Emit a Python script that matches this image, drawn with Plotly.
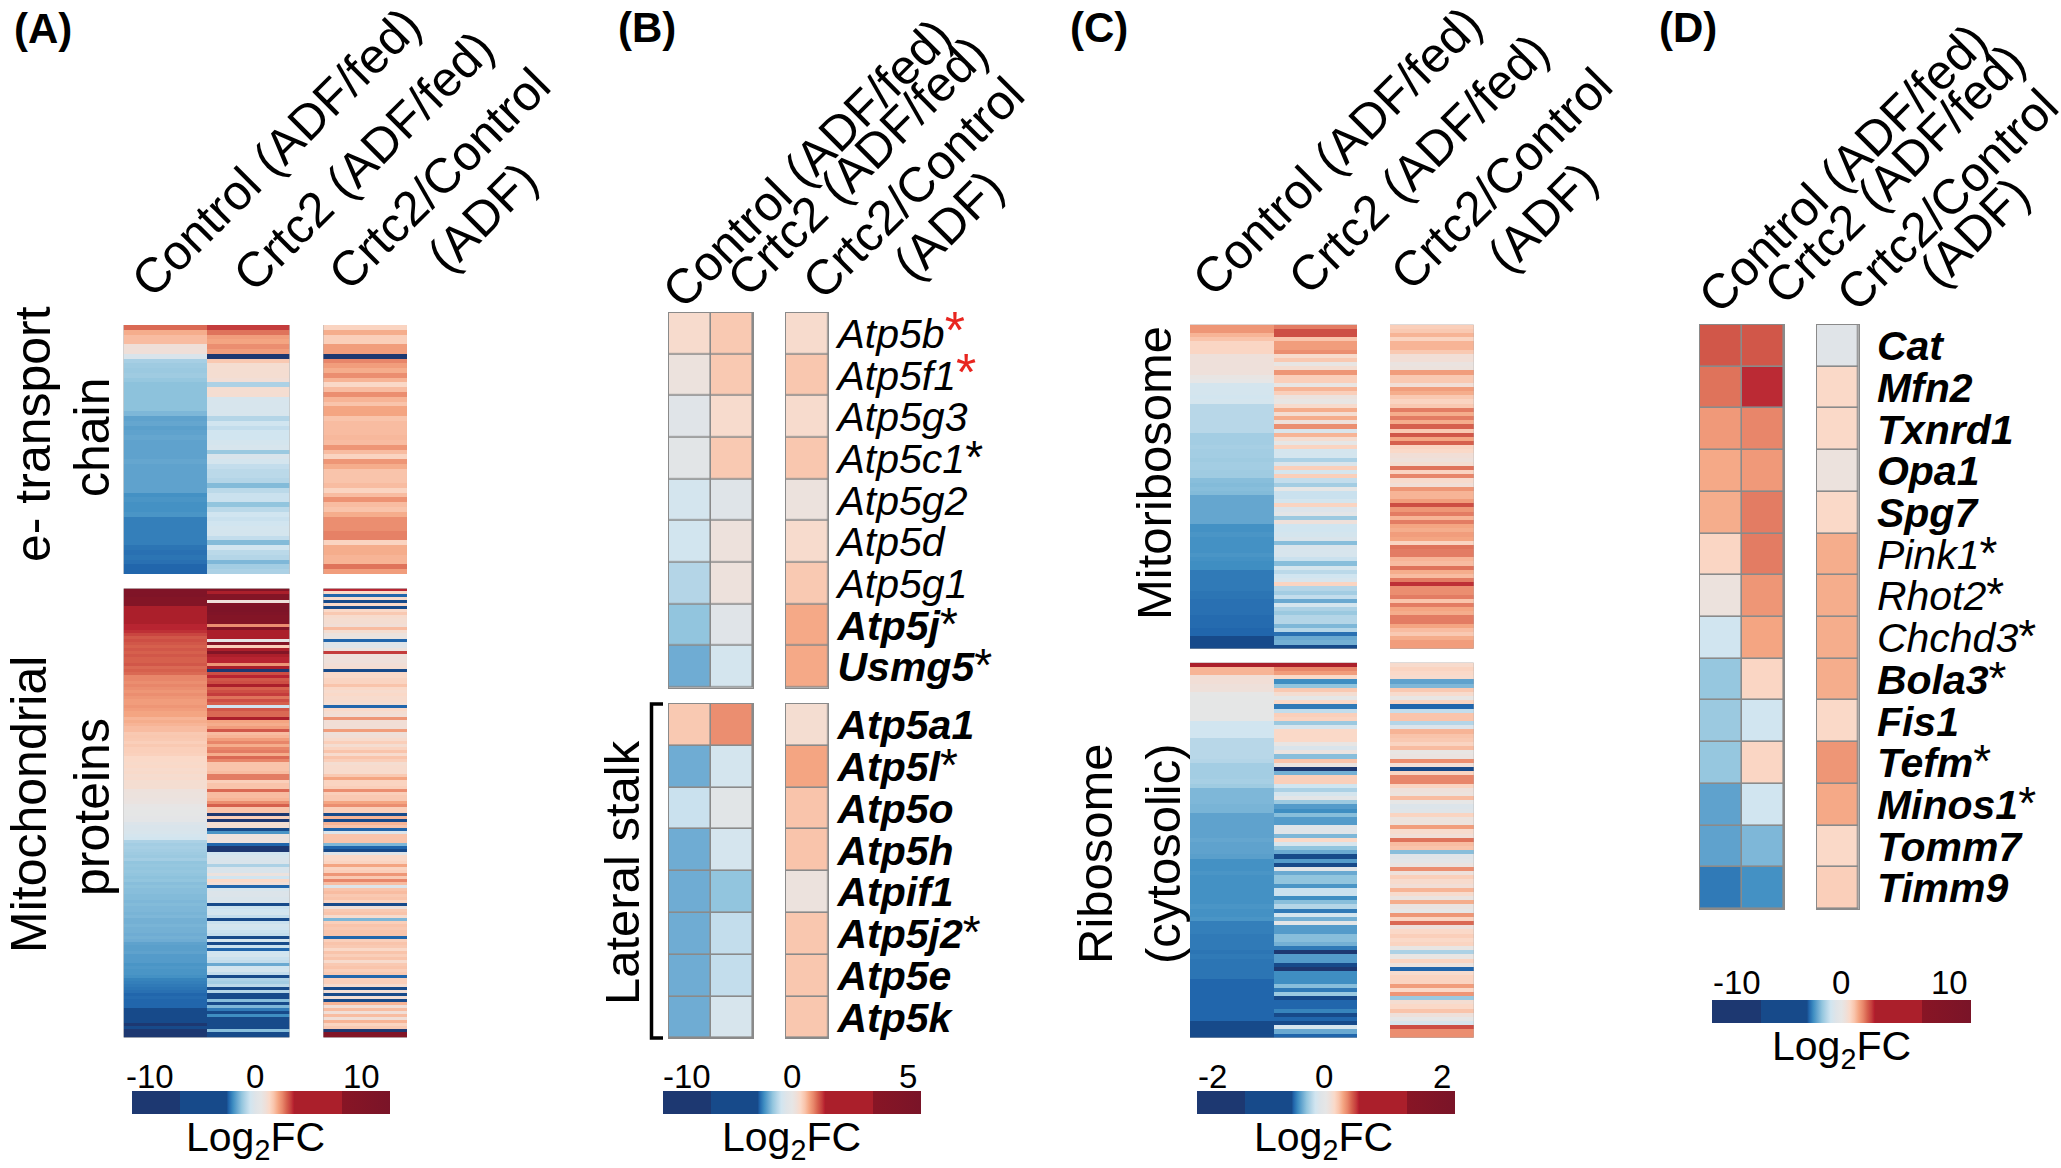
import plotly.graph_objects as go

W, H = 2061, 1168
FONT = "Liberation Sans"

# Shared colour key, in colour-bar units
scale_z = [-12, -7.5, -7.5, -3.2, -3.0, -2.6, -2.2, -1.8, -1.4, -1.0, -0.5, 0, 0.4, 0.8, 1.2, 1.6, 2.0, 2.4, 2.8, 3.1, 3.1, 7.5, 7.5, 12]
scale_c = ["#1d3871", "#1d3871", "#174a8a", "#174a8a", "#2166ac", "#3f8ec2", "#6aa9d1", "#92c5de", "#b4d5e7", "#d1e5f0",
           "#dfe4e8", "#e6e6e6", "#eee0da", "#fad9c8", "#f9c4ab", "#f4a582", "#e8866a", "#d6604d", "#c43c3c", "#b2182b",
           "#ab1f2b", "#ab1f2b", "#881525", "#7a1428"]

# Panel A, e- transport chain
a1_control = [2.3,1.5,1.3,1.3,.45,.45,-.7,-1.55,-1.65,-1.7,
              -1.65,-1.75,-1.85,-1.85,-1.85,-1.85,-1.85,-1.85,-2.0,-2.3,
              -2.25,-2.35,-2.3,-2.25,-2.3,-2.3,-2.3,-2.3,-2.25,-2.3,
              -2.3,-2.3,-2.3,-2.3,-2.3,-2.55,-2.5,-2.55,-2.55,-2.5,
              -2.75,-2.75,-2.75,-2.75,-2.75,-2.75,-2.85,-2.9,-2.85,-2.9,
              -3.0,-3.0]
a1_crtc2 = [2.8,2.2,1.7,1.6,1.9,1.7,-9,1.1,.6,.6,
            .6,.5,-1.5,.6,.6,-.8,-.8,-.8,-.8,-1.4,
            -1.0,-1.2,-1.0,-1.0,-.9,-.8,-1.7,-.7,-.9,-1.2,
            -1.3,-1.3,-1.4,-1.95,-1.3,-1.1,-1.1,-1.8,-1.3,-1.0,
            -1.1,-1.0,-.9,-.9,-1.2,-1.95,-1.0,-1.3,-1.4,-2.0,
            -1.6,-1.5]
a1_ratio = [.9,1.5,1,1,1.7,1.7,-9,2,1.7,1.5,
            1.9,1.4,.8,1.3,1.9,1.4,1.2,1.6,1.6,1.2,
            1.3,1.3,1.3,1.35,1.3,1.8,1.3,.9,1.8,1.5,
            1.2,1.2,1.2,1.3,.9,1.3,1.85,1.3,1.2,1.5,
            1.9,1.9,1.9,2.05,2.05,.9,1.5,1.5,1.4,1.4,
            2.2,1.7]

# Panel A, mitochondrial proteins
a2_control = [10.5,10,10.5,9,9,9,5,4.2,5,4.5,
              4,4,3,3,2.9,2.7,2.5,2.6,2.5,2.4,
              2.5,2.4,2.5,2.4,2.4,2.5,2.3,2.4,2.3,2.0,
              2.0,1.9,2.0,1.9,1.8,1.9,1.8,1.7,1.7,1.8,
              1.7,1.6,1.6,1.4,1.5,1.4,1.3,1.3,1.1,1.15,
              1.1,1.0,1.1,1.0,1.0,.95,.8,.8,.75,.8,
              .7,.75,.65,.7,.6,.6,.6,.35,.3,.3,
              .25,.2,.05,0,-.05,-.1,-.15,-.2,-.6,-.7,
              -.7,-.75,-.85,-.95,-1.5,-1.6,-1.55,-1.6,-1.65,-1.7,
              -1.6,-1.8,-1.75,-1.8,-1.75,-1.8,-1.85,-1.8,-1.9,-1.85,
              -1.9,-1.9,-1.95,-1.95,-2.0,-1.95,-2,-2,-2.05,-2,
              -2.1,-2.1,-2.05,-2.1,-2.1,-2.15,-2.1,-2.15,-2.3,-2.35,
              -2.35,-2.3,-2.4,-2.4,-2.4,-2.5,-2.45,-2.5,-2.5,-2.55,
              -2.7,-2.75,-2.8,-2.85,-2.9,-3,-2.95,-3.0,-3.0,-3.0,
              -5,-5.5,-6,-5.5,-6,-8,-7,-8,-8,-8]
a2_crtc2 = [9,5,9,9,.4,10,11,11,10,9,
            9,9,1.9,9,4,3.5,3.5,0,9,1,
            3.2,9,3.2,3,3,1.8,3.4,-9,2.6,3,
            2.5,2.6,3.2,2.4,2.6,2.8,2.2,2.6,2.4,-1,
            2.5,2.3,2.3,3.3,1.6,1.5,1.7,2.5,1.3,1.4,
            1.7,2,1.5,2,2.1,1.5,2.3,2,1.2,1.2,
            1.2,1.3,2.1,2.1,1,1.2,1.2,2.3,1.3,1.3,
            1.4,1.9,2.4,1.2,1.2,-9,1,-9,.6,.6,
            -6,-2.5,.3,.3,.3,-3,-9,-9,-1,-.8,
            -.7,-.7,-1.5,-.7,-.7,.3,-1,.8,.5,-3,
            -.8,-.6,-.6,-.7,-.7,-5,-1.1,-1.0,-.9,-1.2,
            -4,-1.1,-.9,-1,-1.1,-1.2,-5,-.9,-3.5,-1.1,
            -3,-1.0,-.9,-1.1,-1.2,-2.2,-1.0,-.9,-1.2,-5,
            -1.5,-1.6,-1.3,-4,-1.4,-4,-5,-1.9,-5,-2.0,
            -2.8,-4,-2.6,-3.2,-3.2,-4,-3.4,-1.9,-3.5,-3.2]
a2_ratio = [3,.8,-3,.7,-5,.8,-5,.8,1.1,.7,
            .6,.6,.5,1.3,.6,.3,.2,-3,-.5,-.4,
            .3,2.8,.4,.4,.4,.5,.6,-5,.8,.8,
            .9,.9,1.2,.8,.7,.8,.7,.7,.6,-3,
            .8,.6,.5,1.8,.5,.5,.5,1.7,.4,.5,
            .7,1,.6,.9,1.2,.7,1.2,1,.6,.7,
            .7,.7,1.1,1.6,.9,.9,1,1.9,1,1.1,
            1.1,1.6,1.9,1,1,-4,1.4,-5,1.4,1.2,
            -3,-.6,1.2,1.2,1.2,-2,-3,-5,-.5,.8,
            .8,.9,1.6,.9,1,1.8,1.1,2,1.3,-.6,
            1.2,1.3,1.1,1.2,.9,-5,.4,1.1,1.2,.7,
            -2,1,1.2,1.1,1.2,1.2,-3,1,1.2,1.1,
            .8,1.2,1,1.2,.7,1.1,1.2,1,1.1,-3,
            1,1,.7,-5,.5,-5,.5,-5,1.4,.5,
            1.3,.5,1.3,.5,1.4,.9,1.1,-9,10,9]

# Panel B
b1_genes = ["Atp5b", "Atp5f1", "Atp5g3", "Atp5c1", "Atp5g2", "Atp5d", "Atp5g1", "Atp5j", "Usmg5"]
b1_bold = [0, 0, 0, 0, 0, 0, 0, 1, 1]
b1_star = ["red", "red", "", "black", "", "", "", "black", "black"]
b1_control = [.7, .3, -.4, -.3, -.9, -.95, -1.4, -1.8, -2.15]
b1_crtc2 = [1.1, 1.1, .7, 1.1, -.5, .35, .35, -.4, -.9]
b1_ratio = [.7, 1.15, .7, 1.15, .3, .7, 1.1, 1.55, 1.55]
b2_genes = ["Atp5a1", "Atp5l", "Atp5o", "Atp5h", "Atpif1", "Atp5j2", "Atp5e", "Atp5k"]
b2_bold = [1, 1, 1, 1, 1, 1, 1, 1]
b2_star = ["", "black", "", "", "", "black", "", ""]
b2_control = [1.1, -2.15, -1.1, -2.15, -2.15, -2.15, -2.15, -2.15]
b2_crtc2 = [1.9, -.9, -.35, -.85, -1.8, -1.2, -1.2, -.8]
b2_ratio = [.6, 1.6, 1.2, 1.2, .3, 1.15, 1.15, 1.15]

# Panel C, mitoribosome
c1_control = [1.8,1.8,1.4,1.2,.85,.85,.85,.4,.4,.4,
              .4,.4,.1,0,-.9,-.9,-.9,-.95,-.9,-1.35,
              -1.35,-1.35,-1.35,-1.35,-1.35,-1.35,-1.6,-1.6,-1.6,-1.55,
              -1.6,-1.6,-1.65,-1.6,-1.6,-1.65,-1.65,-1.9,-1.95,-1.9,
              -1.95,-2.25,-2.25,-2.25,-2.25,-2.25,-2.25,-2.25,-2.55,-2.55,
              -2.5,-2.55,-2.55,-2.55,-2.55,-2.5,-2.55,-2.6,-2.6,-2.8,
              -2.8,-2.8,-2.8,-2.8,-2.85,-2.85,-2.9,-2.9,-2.9,-2.9,
              -2.95,-2.95,-2.95,-3.0,-3.0,-4,-5,-5]
c1_crtc2 = [2.1,2.6,2.6,1.2,1.7,1.7,1.9,.7,1.1,.1,
            .6,1.8,1.0,1.0,.1,1.4,1.0,.3,.1,.7,
            1.5,.6,1.5,.4,1.9,-.7,1.4,.6,-.1,.9,
            -.9,-.9,-1.5,-.7,1.0,-.9,1.0,-1.2,-1.6,-.1,
            -1.1,-1.1,-.9,.9,-.6,-.3,-1.7,.4,-1,-1,
            -.9,-.7,-1.9,-.7,-.8,-.8,-1.1,-1.9,-.9,-1.3,
            -1,-.8,.9,-1.4,-1.6,-1.2,-2.2,-.9,-1.5,-1.7,
            -1.4,-1.4,-2.0,-1.4,-2.9,-2.2,-2.1,-5]
c1_ratio = [1.0,1.1,1.4,.9,1.4,1.4,1.1,.5,.5,.2,
            .3,1.7,1.1,1.1,.5,1.7,1.5,1.1,.9,1.1,
            2.1,1.5,2.1,1.5,2.4,1.1,2.5,1.6,2.4,.9,
            .8,.5,.4,.6,2.2,.9,2.0,.7,.5,1.8,
            1.4,1.4,1.7,2.6,1.8,2.1,1.4,2.1,1.6,1.5,
            1.7,1.6,.9,2.2,2.1,2.1,1.4,1.3,2.2,1.5,
            1.3,2.1,2.9,1.9,1.9,2.1,1.2,2.1,1.6,1.5,
            2.1,2.1,1.6,1.3,1.1,1.5,1.7,1.7]

# Panel C, cytosolic ribosome
c2_control = [3.2,1.4,1.4,.5,.5,.4,.4,0,-.1,-.1,
              -.1,-.1,-.1,-.1,-1.0,-1.0,-1.0,-1.0,-1.35,-1.35,
              -1.35,-1.35,-1.35,-1.4,-1.6,-1.6,-1.6,-1.6,-1.55,-1.65,
              -2.0,-2.0,-2.0,-2.0,-2.05,-2.05,-2.3,-2.3,-2.3,-2.3,
              -2.3,-2.3,-2.25,-2.3,-2.3,-2.3,-2.35,-2.55,-2.55,-2.55,
              -2.5,-2.55,-2.55,-2.55,-2.55,-2.55,-2.55,-2.55,-2.5,-2.55,
              -2.55,-2.5,-2.75,-2.75,-2.75,-2.8,-2.8,-2.8,-2.8,-2.85,
              -2.8,-2.85,-2.85,-2.85,-2.85,-2.85,-3.0,-3.0,-3.0,-3.0,
              -3.0,-3.0,-3.0,-3.0,-3.0,-3.0,-5,-5,-5,-5.5]
c2_crtc2 = [3.2,2.0,1.7,.8,-2.6,-1.8,1.1,.6,-.1,.8,
            -2.8,-1.2,1.0,.9,-1.7,-.8,.8,.8,.8,.1,
            -.7,.2,-1.9,1.2,.2,-9,-2.1,1.0,1.0,-1.0,
            -1.5,-.9,-.3,-1.7,-2.4,-2.6,-1.9,-2.4,-2.4,-.4,
            -.4,-2,.8,-.8,-1.8,-2.2,-3.2,-2.4,-4,-.5,
            -2.2,-1.8,-1.8,-2.5,-1.1,-1.1,-2.6,-1.9,-1.4,-2.8,
            -.9,-2.1,-.3,-2.4,-2.4,-1.9,-1.9,-2.1,-2.8,-8,
            -2.4,-2.4,-3.2,-8,-2.6,-2.6,-2.6,-1.9,-2.8,-1.7,
            -6,-3.0,-3.0,-2.7,-5,-3.0,-5,-.8,-2.2,-3]
c2_ratio = [.7,.9,.8,.7,-2.3,-2.0,1.1,.7,.1,.9,
            -3,-1.2,1.2,1.2,-1.4,-.6,1.4,1.2,1.1,.9,
            1.3,.1,.2,1.9,.5,-5,.9,2.0,2.0,.9,
            .4,.3,1.3,0,-.6,-.5,.9,.3,.3,1.7,
            .7,.5,2.2,1.3,1.2,-1.9,-.5,-.3,.2,1.9,
            .4,1.0,.7,.5,1.4,.7,.2,1.5,.2,0,
            1.8,.9,2.3,.4,.8,1.0,.8,.9,.1,-1.5,
            .1,.9,.3,-3,.7,.9,.9,1.7,.8,1.8,
            -1.7,.6,.8,1.2,.4,0,-.8,2.6,1.9,1.9]

# Panel D
d_genes = ["Cat", "Mfn2", "Txnrd1", "Opa1", "Spg7", "Pink1", "Rhot2", "Chchd3", "Bola3", "Fis1", "Tefm", "Minos1", "Tomm7", "Timm9"]
d_bold = [1, 1, 1, 1, 1, 0, 0, 0, 1, 1, 1, 1, 1, 1]
d_star = ["", "", "", "", "", "black", "black", "black", "black", "", "black", "black", "", ""]
d_control = [2.5, 2.2, 1.75, 1.55, 1.5, .85, .3, -1.0, -1.75, -1.7, -1.75, -2.3, -2.3, -2.8]
d_crtc2 = [2.5, 2.95, 2.0, 1.75, 2.1, 2.1, 1.8, 1.6, .85, -1.0, .85, -1.0, -2.0, -2.55]
d_ratio = [-.4, .8, .8, .3, .8, 1.5, 1.5, 1.5, 1.5, .8, 1.8, 1.55, .8, 1.0]

fx = lambda px: px / W
fy = lambda px: 1 - px / H

colorscale = [[(z + 12) / 24, c] for z, c in zip(scale_z, scale_c)]
fig = go.Figure()
axis_no = [0]


def gene_label(name, bold, star):
    s = f"<i>{name}</i>"
    if bold:
        s = f"<b>{s}</b>"
    if star == "red":
        s += '<span style="color:#e8251f;font-size:52px">*</span>'
    elif star:
        s += '<span style="font-size:46px">*</span>'
    return s


def block(panel, cols, x0, x1, y0, y1, genes=None, bold=None, star=None, grid=False, names=None, ticksize=41):
    axis_no[0] += 1
    n = axis_no[0]
    suffix = "" if n == 1 else str(n)
    rows = list(zip(*cols))
    ylab = genes if genes else list(range(len(rows)))
    fig.add_trace(go.Heatmap(
        z=rows, x=list(range(len(cols))), y=ylab, coloraxis=panel,
        xgap=1.6 if grid else 0, ygap=1.6 if grid else 0,
        xaxis="x" + suffix, yaxis="y" + suffix, hoverinfo="skip"))
    xa = dict(domain=[fx(x0), fx(x1)], anchor="y" + suffix, showticklabels=False, ticks="",
              showgrid=False, zeroline=False, showline=grid, mirror=grid, linecolor="#8a8a8a", linewidth=1)
    ya = dict(domain=[fy(y1), fy(y0)], anchor="x" + suffix, autorange="reversed", showgrid=False,
              zeroline=False, showline=grid, mirror=grid, linecolor="#8a8a8a", linewidth=1,
              showticklabels=False, ticks="")
    if genes and names is not None:
        ya.update(side="right", showticklabels=True, ticks="outside", ticklen=names, tickcolor="rgba(0,0,0,0)",
                  tickmode="array", tickvals=genes,
                  ticktext=[gene_label(g, b, s) for g, b, s in zip(genes, bold, star)],
                  tickfont=dict(family=FONT, size=ticksize, color="black"))
    fig.layout["xaxis" + suffix] = xa
    fig.layout["yaxis" + suffix] = ya


block("coloraxis", [a1_control, a1_crtc2], 123.6, 289.5, 325, 574)
block("coloraxis", [a1_ratio], 323.3, 407, 325, 574)
block("coloraxis", [a2_control, a2_crtc2], 123.6, 289.5, 588.5, 1037.5)
block("coloraxis", [a2_ratio], 323.3, 407, 588.5, 1037.5)

block("coloraxis2", [b1_control, b1_crtc2], 669, 753, 312.7, 687.7, genes=b1_genes, grid=True)
block("coloraxis2", [b1_ratio], 785.7, 828.3, 312.7, 687.7, genes=b1_genes, bold=b1_bold, star=b1_star, grid=True, names=0)
block("coloraxis2", [b2_control, b2_crtc2], 669, 753, 704, 1038.3, genes=b2_genes, grid=True)
block("coloraxis2", [b2_ratio], 785.7, 828.3, 704, 1038.3, genes=b2_genes, bold=b2_bold, star=b2_star, grid=True, names=0)

block("coloraxis3", [c1_control, c1_crtc2], 1190, 1357, 324.7, 648.7)
block("coloraxis3", [c1_ratio], 1390, 1473.7, 324.7, 648.7)
block("coloraxis3", [c2_control, c2_crtc2], 1190, 1357, 662.7, 1037.7)
block("coloraxis3", [c2_ratio], 1390, 1473.7, 662.7, 1037.7)

block("coloraxis4", [d_control, d_crtc2], 1700, 1784, 325, 909, genes=d_genes, grid=True)
block("coloraxis4", [d_ratio], 1816.5, 1858.7, 325, 909, genes=d_genes, bold=d_bold, star=d_star, grid=True, names=9)


def colorbar(x0, x1, ytop):
    return dict(colorscale=colorscale, cmin=-12, cmax=12, showscale=True, colorbar=dict(
        orientation="h", lenmode="pixels", len=x1 - x0, thicknessmode="pixels", thickness=23,
        x=fx(x0), xanchor="left", xref="paper", y=fy(ytop), yanchor="top", yref="paper",
        xpad=0, ypad=0, outlinewidth=0, ticks="", showticklabels=False))


fig.update_layout(
    width=W, height=H, margin=dict(l=0, r=0, t=0, b=0, autoexpand=False),
    paper_bgcolor="white", plot_bgcolor="#8a8a8a",
    coloraxis=colorbar(131.7, 390, 1091),
    coloraxis2=colorbar(663.3, 921.7, 1091),
    coloraxis3=colorbar(1197.4, 1455, 1091),
    coloraxis4=colorbar(1712, 1970.7, 1000),
)


def text(s, x, y, size=49, angle=0, bold=False):
    fig.add_annotation(text=f"<b>{s}</b>" if bold else s, x=fx(x), y=fy(y), xref="paper", yref="paper",
                       showarrow=False, textangle=angle, xanchor="center", yanchor="middle", align="center",
                       font=dict(family=FONT, size=size, color="black"))


for label, x, y in [("(A)", 43, 29), ("(B)", 647, 28), ("(C)", 1099, 27), ("(D)", 1688, 27)]:
    text(label, x, y, size=42, bold=True)

header_lines = ["Control (ADF/fed)", "Crtc2 (ADF/fed)", "Crtc2/Control", "(ADF)"]
header_pos = [[(276, 152), (363, 161), (439, 179), (482, 217)],
              [(807, 163), (857, 166), (913, 188), (948, 225)],
              [(1337, 151), (1418, 164), (1501, 179), (1542, 217)],
              [(1843, 168), (1894, 174), (1947, 200), (1974, 232)]]
for panel in header_pos:
    for name, (x, y) in zip(header_lines, panel):
        text(name, x, y, size=49, angle=-45)

for s, x, y, size in [("e- transport", 33, 434, 50), ("chain", 92, 437, 50),
                      ("Mitochondrial", 29, 805, 50), ("proteins", 92, 807, 50),
                      ("Lateral stalk", 622, 873, 49), ("Mitoribosome", 1154, 473, 49),
                      ("Ribosome", 1095, 854, 49), ("(cytosolic)", 1163, 854, 49)]:
    text(s, x, y, size=size, angle=-90)

# Colour-key tick labels and titles
key_ticks = [("-10", 150, 1076.7), ("0", 255, 1076.7), ("10", 361.7, 1076.7),
             ("-10", 686.7, 1076.7), ("0", 791.7, 1076.7), ("5", 908, 1076.7),
             ("-2", 1212, 1076.7), ("0", 1323.6, 1076.7), ("2", 1442, 1076.7),
             ("-10", 1736.7, 983), ("0", 1841, 983), ("10", 1949, 983)]
for s, x, y in key_ticks:
    text(s, x, y, size=33)
for x, y in [(255, 1140), (791.7, 1140), (1323, 1140), (1841, 1049)]:
    text("Log<sub>2</sub>FC", x, y, size=41)

bracket = f"M {fx(663)} {fy(704)} L {fx(651.5)} {fy(704)} L {fx(651.5)} {fy(1038)} L {fx(663)} {fy(1038)}"
fig.add_shape(type="path", path=bracket, xref="paper", yref="paper", line=dict(color="black", width=3.5))

fig.write_html("out.html", config={"displayModeBar": False}, post_script="document.body.style.margin='0';")
